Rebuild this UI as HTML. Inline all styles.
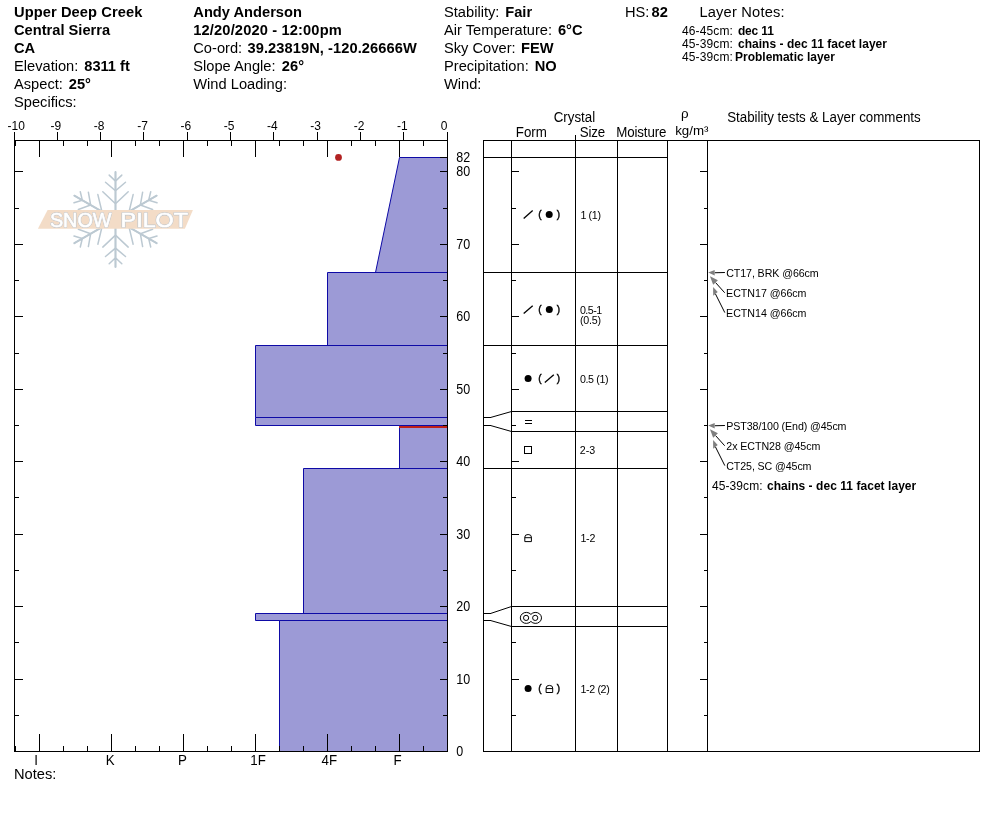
<!DOCTYPE html>
<html><head><meta charset="utf-8"><title>Snow Profile</title>
<style>
html,body{margin:0;padding:0;background:#fff;}
body{width:994px;height:840px;overflow:hidden;}
svg{display:block;font-family:"Liberation Sans",Arial,sans-serif;}
rect,polygon.c{shape-rendering:crispEdges;}
</style></head><body>
<svg width="994" height="840" viewBox="0 0 994 840">
<rect x="0" y="0" width="994" height="840" fill="#fff"/>
<g transform="translate(115.5,219.4)" stroke="#BCC9D2" stroke-width="1.5" fill="none" stroke-linecap="round">
<path transform="rotate(0)" d="M0,0 L0,-47.5 M-12.7,-27.7 L0,-15.7 L12.7,-27.7 M-10,-37.1 L0,-28.7 L10,-37.1 M-6.3,-44.3 L0,-38.3 L6.3,-44.3 "/><path transform="rotate(0)" d="M0,0 L0,-47.5" stroke-width="1.9"/>
<path transform="rotate(60)" d="M0,0 L0,-47.5 M-12.7,-27.7 L0,-15.7 L12.7,-27.7 M-10,-37.1 L0,-28.7 L10,-37.1 M-6.3,-44.3 L0,-38.3 L6.3,-44.3 "/><path transform="rotate(60)" d="M0,0 L0,-47.5" stroke-width="1.9"/>
<path transform="rotate(120)" d="M0,0 L0,-47.5 M-12.7,-27.7 L0,-15.7 L12.7,-27.7 M-10,-37.1 L0,-28.7 L10,-37.1 M-6.3,-44.3 L0,-38.3 L6.3,-44.3 "/><path transform="rotate(120)" d="M0,0 L0,-47.5" stroke-width="1.9"/>
<path transform="rotate(180)" d="M0,0 L0,-47.5 M-12.7,-27.7 L0,-15.7 L12.7,-27.7 M-10,-37.1 L0,-28.7 L10,-37.1 M-6.3,-44.3 L0,-38.3 L6.3,-44.3 "/><path transform="rotate(180)" d="M0,0 L0,-47.5" stroke-width="1.9"/>
<path transform="rotate(240)" d="M0,0 L0,-47.5 M-12.7,-27.7 L0,-15.7 L12.7,-27.7 M-10,-37.1 L0,-28.7 L10,-37.1 M-6.3,-44.3 L0,-38.3 L6.3,-44.3 "/><path transform="rotate(240)" d="M0,0 L0,-47.5" stroke-width="1.9"/>
<path transform="rotate(300)" d="M0,0 L0,-47.5 M-12.7,-27.7 L0,-15.7 L12.7,-27.7 M-10,-37.1 L0,-28.7 L10,-37.1 M-6.3,-44.3 L0,-38.3 L6.3,-44.3 "/><path transform="rotate(300)" d="M0,0 L0,-47.5" stroke-width="1.9"/>
</g>
<polygon points="47.6,210 192.9,210 184.9,228.7 37.9,228.7" fill="#F3DCC7"/>
<g font-size="20.3" fill="#fff" stroke="#C2C7CC" stroke-width="1.7" stroke-linejoin="round"><text x="49.9" y="226.5" textLength="61.6" lengthAdjust="spacingAndGlyphs">SNOW</text><text x="120.6" y="226.5" textLength="67.4" lengthAdjust="spacingAndGlyphs">PILOT</text></g>
<g font-size="20.3" fill="#fff" stroke="#fff" stroke-width="0.6" stroke-linejoin="round"><text x="49.9" y="226.5" textLength="61.6" lengthAdjust="spacingAndGlyphs">SNOW</text><text x="120.6" y="226.5" textLength="67.4" lengthAdjust="spacingAndGlyphs">PILOT</text></g>
<text x="14" y="16.7" font-size="14.67" font-weight="bold" fill="#000" transform="matrix(1 0 0 1.06 0 -1.002)" textLength="128.39" lengthAdjust="spacing">Upper Deep Creek</text>
<text x="14" y="34.6" font-size="14.67" font-weight="bold" fill="#000" transform="matrix(1 0 0 1.06 0 -2.076)">Central Sierra</text>
<text x="14" y="52.6" font-size="14.67" font-weight="bold" fill="#000" transform="matrix(1 0 0 1.06 0 -3.156)">CA</text>
<text x="14" y="70.6" font-size="14.67" xml:space="preserve" transform="matrix(1 0 0 1.055 0 -3.883)">Elevation: <tspan font-weight="bold" dx="1.8">8311 ft</tspan></text>
<text x="14" y="88.6" font-size="14.67" xml:space="preserve" transform="matrix(1 0 0 1.055 0 -4.873)">Aspect: <tspan font-weight="bold" dx="1.8">25°</tspan></text>
<text x="14" y="106.6" font-size="14.67" fill="#000" transform="matrix(1 0 0 1.055 0 -5.863)">Specifics:</text>
<text x="193.3" y="16.7" font-size="14.67" font-weight="bold" fill="#000" transform="matrix(1 0 0 1.06 0 -1.002)">Andy Anderson</text>
<text x="193.3" y="34.6" font-size="14.67" font-weight="bold" fill="#000" transform="matrix(1 0 0 1.06 0 -2.076)" textLength="148.48" lengthAdjust="spacing">12/20/2020 - 12:00pm</text>
<text x="193.3" y="52.6" font-size="14.67" xml:space="preserve" transform="matrix(1 0 0 1.055 0 -2.893)">Co-ord: <tspan font-weight="bold" dx="1.2" textLength="169.31">39.23819N, -120.26666W</tspan></text>
<text x="193.3" y="70.6" font-size="14.67" xml:space="preserve" transform="matrix(1 0 0 1.055 0 -3.883)">Slope Angle: <tspan font-weight="bold" dx="2.2">26°</tspan></text>
<text x="193.3" y="88.6" font-size="14.67" fill="#000" transform="matrix(1 0 0 1.055 0 -4.873)">Wind Loading:</text>
<text x="444" y="16.7" font-size="14.67" xml:space="preserve" transform="matrix(1 0 0 1.055 0 -0.918)">Stability: <tspan font-weight="bold" dx="1.8">Fair</tspan></text>
<text x="444" y="34.6" font-size="14.67" xml:space="preserve" transform="matrix(1 0 0 1.055 0 -1.903)">Air Temperature: <tspan font-weight="bold" dx="1.8">6°C</tspan></text>
<text x="444" y="52.6" font-size="14.67" xml:space="preserve" transform="matrix(1 0 0 1.055 0 -2.893)">Sky Cover: <tspan font-weight="bold" dx="1.3">FEW</tspan></text>
<text x="444" y="70.6" font-size="14.67" xml:space="preserve" transform="matrix(1 0 0 1.055 0 -3.883)">Precipitation: <tspan font-weight="bold" dx="2">NO</tspan></text>
<text x="444" y="88.6" font-size="14.67" fill="#000" transform="matrix(1 0 0 1.055 0 -4.873)">Wind:</text>
<text x="625" y="16.7" font-size="14.67" xml:space="preserve" transform="matrix(1 0 0 1.055 0 -0.918)">HS: <tspan font-weight="bold" dx="-2">82</tspan></text>
<text x="699.4" y="16.7" font-size="14.67" fill="#000" transform="matrix(1 0 0 1.055 0 -0.918)" textLength="85.24" lengthAdjust="spacing">Layer Notes:</text>
<text x="682.02" y="35" font-size="12" fill="#000" transform="matrix(1 0 0 1.09 0 -3.15)" textLength="50.87" lengthAdjust="spacing">46-45cm:</text>
<text x="737.91" y="35" font-size="12" font-weight="bold" fill="#000" transform="matrix(1 0 0 1.09 0 -3.15)" textLength="35.93" lengthAdjust="spacing">dec 11</text>
<text x="682.02" y="48" font-size="12" fill="#000" transform="matrix(1 0 0 1.09 0 -4.32)" textLength="50.87" lengthAdjust="spacing">45-39cm:</text>
<text x="737.93" y="48" font-size="12" font-weight="bold" fill="#000" transform="matrix(1 0 0 1.09 0 -4.32)" textLength="149.05" lengthAdjust="spacing">chains - dec 11 facet layer</text>
<text x="682.02" y="61" font-size="12" fill="#000" transform="matrix(1 0 0 1.09 0 -5.49)" textLength="50.87" lengthAdjust="spacing">45-39cm:</text>
<text x="735.0" y="61" font-size="12" font-weight="bold" fill="#000" transform="matrix(1 0 0 1.09 0 -5.49)" textLength="99.98" lengthAdjust="spacing">Problematic layer</text>
<text x="14" y="779.2" font-size="14.67" fill="#000" transform="matrix(1 0 0 1.055 0 -42.856)">Notes:</text>
<polygon points="399.5,157.5 447.5,157.5 447.5,272.5 375.5,272.5" fill="#9C9AD6" stroke="#0E0AA6" stroke-width="1"/>
<polygon points="327.5,272.5 447.5,272.5 447.5,345.5 327.5,345.5" fill="#9C9AD6" stroke="#0E0AA6" stroke-width="1"/>
<polygon points="255.5,345.5 447.5,345.5 447.5,417.5 255.5,417.5" fill="#9C9AD6" stroke="#0E0AA6" stroke-width="1"/>
<polygon points="255.5,417.5 447.5,417.5 447.5,425.5 255.5,425.5" fill="#9C9AD6" stroke="#0E0AA6" stroke-width="1"/>
<polygon points="399.5,425.5 447.5,425.5 447.5,468.5 399.5,468.5" fill="#9C9AD6" stroke="#0E0AA6" stroke-width="1"/>
<polygon points="303.5,468.5 447.5,468.5 447.5,613.5 303.5,613.5" fill="#9C9AD6" stroke="#0E0AA6" stroke-width="1"/>
<polygon points="255.5,613.5 447.5,613.5 447.5,620.5 255.5,620.5" fill="#9C9AD6" stroke="#0E0AA6" stroke-width="1"/>
<polygon points="279.5,620.5 447.5,620.5 447.5,751.5 279.5,751.5" fill="#9C9AD6" stroke="#0E0AA6" stroke-width="1"/>
<rect x="399" y="426" width="48" height="2" fill="#BF2019"/>
<rect x="14" y="132" width="1" height="620" fill="#000"/>
<rect x="447" y="132" width="1" height="620" fill="#000"/>
<rect x="14" y="140" width="434" height="1" fill="#000"/>
<rect x="14" y="751" width="434" height="1" fill="#000"/>
<rect x="14" y="132" width="1" height="8" fill="#000"/>
<rect x="57" y="132" width="1" height="8" fill="#000"/>
<rect x="100" y="132" width="1" height="8" fill="#000"/>
<rect x="143" y="132" width="1" height="8" fill="#000"/>
<rect x="187" y="132" width="1" height="8" fill="#000"/>
<rect x="230" y="132" width="1" height="8" fill="#000"/>
<rect x="273" y="132" width="1" height="8" fill="#000"/>
<rect x="317" y="132" width="1" height="8" fill="#000"/>
<rect x="360" y="132" width="1" height="8" fill="#000"/>
<rect x="403" y="132" width="1" height="8" fill="#000"/>
<rect x="447" y="132" width="1" height="8" fill="#000"/>
<text x="16.3" y="129.6" font-size="12" text-anchor="middle" fill="#000" transform="matrix(1 0 0 1.09 0 -11.664)">-10</text>
<text x="55.9" y="129.6" font-size="12" text-anchor="middle" fill="#000" transform="matrix(1 0 0 1.09 0 -11.664)">-9</text>
<text x="99.2" y="129.6" font-size="12" text-anchor="middle" fill="#000" transform="matrix(1 0 0 1.09 0 -11.664)">-8</text>
<text x="142.5" y="129.6" font-size="12" text-anchor="middle" fill="#000" transform="matrix(1 0 0 1.09 0 -11.664)">-7</text>
<text x="185.8" y="129.6" font-size="12" text-anchor="middle" fill="#000" transform="matrix(1 0 0 1.09 0 -11.664)">-6</text>
<text x="229.1" y="129.6" font-size="12" text-anchor="middle" fill="#000" transform="matrix(1 0 0 1.09 0 -11.664)">-5</text>
<text x="272.4" y="129.6" font-size="12" text-anchor="middle" fill="#000" transform="matrix(1 0 0 1.09 0 -11.664)">-4</text>
<text x="315.7" y="129.6" font-size="12" text-anchor="middle" fill="#000" transform="matrix(1 0 0 1.09 0 -11.664)">-3</text>
<text x="359.0" y="129.6" font-size="12" text-anchor="middle" fill="#000" transform="matrix(1 0 0 1.09 0 -11.664)">-2</text>
<text x="402.3" y="129.6" font-size="12" text-anchor="middle" fill="#000" transform="matrix(1 0 0 1.09 0 -11.664)">-1</text>
<text x="444.0" y="129.6" font-size="12" text-anchor="middle" fill="#000" transform="matrix(1 0 0 1.09 0 -11.664)">0</text>
<rect x="423" y="141" width="1" height="5" fill="#000"/>
<rect x="423" y="746" width="1" height="5" fill="#000"/>
<rect x="399" y="141" width="1" height="16" fill="#000"/>
<rect x="399" y="734" width="1" height="17" fill="#000"/>
<rect x="375" y="141" width="1" height="5" fill="#000"/>
<rect x="375" y="746" width="1" height="5" fill="#000"/>
<rect x="351" y="141" width="1" height="5" fill="#000"/>
<rect x="351" y="746" width="1" height="5" fill="#000"/>
<rect x="327" y="141" width="1" height="16" fill="#000"/>
<rect x="327" y="734" width="1" height="17" fill="#000"/>
<rect x="303" y="141" width="1" height="5" fill="#000"/>
<rect x="303" y="746" width="1" height="5" fill="#000"/>
<rect x="279" y="141" width="1" height="5" fill="#000"/>
<rect x="279" y="746" width="1" height="5" fill="#000"/>
<rect x="255" y="141" width="1" height="16" fill="#000"/>
<rect x="255" y="734" width="1" height="17" fill="#000"/>
<rect x="231" y="141" width="1" height="5" fill="#000"/>
<rect x="231" y="746" width="1" height="5" fill="#000"/>
<rect x="207" y="141" width="1" height="5" fill="#000"/>
<rect x="207" y="746" width="1" height="5" fill="#000"/>
<rect x="183" y="141" width="1" height="16" fill="#000"/>
<rect x="183" y="734" width="1" height="17" fill="#000"/>
<rect x="159" y="141" width="1" height="5" fill="#000"/>
<rect x="159" y="746" width="1" height="5" fill="#000"/>
<rect x="135" y="141" width="1" height="5" fill="#000"/>
<rect x="135" y="746" width="1" height="5" fill="#000"/>
<rect x="111" y="141" width="1" height="16" fill="#000"/>
<rect x="111" y="734" width="1" height="17" fill="#000"/>
<rect x="87" y="141" width="1" height="5" fill="#000"/>
<rect x="87" y="746" width="1" height="5" fill="#000"/>
<rect x="63" y="141" width="1" height="5" fill="#000"/>
<rect x="63" y="746" width="1" height="5" fill="#000"/>
<rect x="39" y="141" width="1" height="16" fill="#000"/>
<rect x="39" y="734" width="1" height="17" fill="#000"/>
<rect x="15" y="141" width="1" height="5" fill="#000"/>
<rect x="15" y="746" width="1" height="5" fill="#000"/>
<text x="34.27" y="765.4" font-size="13.33" fill="#000" transform="matrix(1 0 0 1.09 0 -68.886)">I</text>
<text x="105.81" y="765.4" font-size="13.33" fill="#000" transform="matrix(1 0 0 1.09 0 -68.886)">K</text>
<text x="177.91" y="765.4" font-size="13.33" fill="#000" transform="matrix(1 0 0 1.09 0 -68.886)">P</text>
<text x="250.38" y="765.4" font-size="13.33" fill="#000" transform="matrix(1 0 0 1.09 0 -68.886)">1F</text>
<text x="321.49" y="765.4" font-size="13.33" fill="#000" transform="matrix(1 0 0 1.09 0 -68.886)">4F</text>
<text x="393.61" y="765.4" font-size="13.33" fill="#000" transform="matrix(1 0 0 1.09 0 -68.886)">F</text>
<rect x="15" y="715" width="4" height="1" fill="#000"/>
<rect x="443" y="715" width="4" height="1" fill="#000"/>
<rect x="15" y="679" width="8" height="1" fill="#000"/>
<rect x="440" y="679" width="7" height="1" fill="#000"/>
<rect x="15" y="642" width="4" height="1" fill="#000"/>
<rect x="443" y="642" width="4" height="1" fill="#000"/>
<rect x="15" y="606" width="8" height="1" fill="#000"/>
<rect x="440" y="606" width="7" height="1" fill="#000"/>
<rect x="15" y="570" width="4" height="1" fill="#000"/>
<rect x="443" y="570" width="4" height="1" fill="#000"/>
<rect x="15" y="534" width="8" height="1" fill="#000"/>
<rect x="440" y="534" width="7" height="1" fill="#000"/>
<rect x="15" y="497" width="4" height="1" fill="#000"/>
<rect x="443" y="497" width="4" height="1" fill="#000"/>
<rect x="15" y="461" width="8" height="1" fill="#000"/>
<rect x="440" y="461" width="7" height="1" fill="#000"/>
<rect x="15" y="425" width="4" height="1" fill="#000"/>
<rect x="443" y="425" width="4" height="1" fill="#000"/>
<rect x="15" y="389" width="8" height="1" fill="#000"/>
<rect x="440" y="389" width="7" height="1" fill="#000"/>
<rect x="15" y="353" width="4" height="1" fill="#000"/>
<rect x="443" y="353" width="4" height="1" fill="#000"/>
<rect x="15" y="316" width="8" height="1" fill="#000"/>
<rect x="440" y="316" width="7" height="1" fill="#000"/>
<rect x="15" y="280" width="4" height="1" fill="#000"/>
<rect x="443" y="280" width="4" height="1" fill="#000"/>
<rect x="15" y="244" width="8" height="1" fill="#000"/>
<rect x="440" y="244" width="7" height="1" fill="#000"/>
<rect x="15" y="208" width="4" height="1" fill="#000"/>
<rect x="443" y="208" width="4" height="1" fill="#000"/>
<rect x="15" y="171" width="8" height="1" fill="#000"/>
<rect x="440" y="171" width="7" height="1" fill="#000"/>
<text x="456.2" y="756" font-size="12.5" fill="#000" transform="matrix(1 0 0 1.15 0 -113.4)">0</text>
<text x="456.2" y="684" font-size="12.5" fill="#000" transform="matrix(1 0 0 1.15 0 -102.6)">10</text>
<text x="456.2" y="611" font-size="12.5" fill="#000" transform="matrix(1 0 0 1.15 0 -91.65)">20</text>
<text x="456.2" y="539" font-size="12.5" fill="#000" transform="matrix(1 0 0 1.15 0 -80.85)">30</text>
<text x="456.2" y="466" font-size="12.5" fill="#000" transform="matrix(1 0 0 1.15 0 -69.9)">40</text>
<text x="456.2" y="394" font-size="12.5" fill="#000" transform="matrix(1 0 0 1.15 0 -59.1)">50</text>
<text x="456.2" y="321" font-size="12.5" fill="#000" transform="matrix(1 0 0 1.15 0 -48.15)">60</text>
<text x="456.2" y="249" font-size="12.5" fill="#000" transform="matrix(1 0 0 1.15 0 -37.35)">70</text>
<text x="456.2" y="176" font-size="12.5" fill="#000" transform="matrix(1 0 0 1.15 0 -26.4)">80</text>
<text x="456.2" y="162" font-size="12.5" fill="#000" transform="matrix(1 0 0 1.15 0 -24.3)">82</text>
<rect x="440" y="157" width="7" height="1" fill="#000"/>
<circle cx="338.5" cy="157.4" r="3.4" fill="#B22222"/>
<rect x="483" y="140" width="1" height="612" fill="#000"/>
<rect x="511" y="140" width="1" height="612" fill="#000"/>
<rect x="575" y="140" width="1" height="612" fill="#000"/>
<rect x="617" y="140" width="1" height="612" fill="#000"/>
<rect x="667" y="140" width="1" height="612" fill="#000"/>
<rect x="707" y="140" width="1" height="612" fill="#000"/>
<rect x="979" y="140" width="1" height="612" fill="#000"/>
<rect x="575" y="135" width="1" height="6" fill="#000"/>
<rect x="483" y="140" width="497" height="1" fill="#000"/>
<rect x="483" y="751" width="497" height="1" fill="#000"/>
<rect x="483" y="157" width="185" height="1" fill="#000"/>
<rect x="483" y="272" width="185" height="1" fill="#000"/>
<rect x="483" y="345" width="185" height="1" fill="#000"/>
<rect x="511" y="411" width="157" height="1" fill="#000"/>
<rect x="511" y="431" width="157" height="1" fill="#000"/>
<rect x="483" y="468" width="185" height="1" fill="#000"/>
<rect x="511" y="606" width="157" height="1" fill="#000"/>
<rect x="511" y="626" width="157" height="1" fill="#000"/>
<rect x="483" y="417" width="8" height="1" fill="#000"/>
<line x1="490.5" y1="417.5" x2="511.5" y2="411.5" stroke="#000" stroke-width="1"/>
<rect x="483" y="425" width="8" height="1" fill="#000"/>
<line x1="490.5" y1="425.5" x2="511.5" y2="431.5" stroke="#000" stroke-width="1"/>
<rect x="483" y="613" width="8" height="1" fill="#000"/>
<line x1="490.5" y1="613.5" x2="511.5" y2="606.5" stroke="#000" stroke-width="1"/>
<rect x="483" y="620" width="8" height="1" fill="#000"/>
<line x1="490.5" y1="620.5" x2="511.5" y2="626.5" stroke="#000" stroke-width="1"/>
<rect x="512" y="715" width="4" height="1" fill="#000"/>
<rect x="704" y="715" width="3" height="1" fill="#000"/>
<rect x="512" y="679" width="7" height="1" fill="#000"/>
<rect x="700" y="679" width="7" height="1" fill="#000"/>
<rect x="512" y="642" width="4" height="1" fill="#000"/>
<rect x="704" y="642" width="3" height="1" fill="#000"/>
<rect x="512" y="606" width="7" height="1" fill="#000"/>
<rect x="700" y="606" width="7" height="1" fill="#000"/>
<rect x="512" y="570" width="4" height="1" fill="#000"/>
<rect x="704" y="570" width="3" height="1" fill="#000"/>
<rect x="512" y="534" width="7" height="1" fill="#000"/>
<rect x="700" y="534" width="7" height="1" fill="#000"/>
<rect x="512" y="497" width="4" height="1" fill="#000"/>
<rect x="704" y="497" width="3" height="1" fill="#000"/>
<rect x="512" y="461" width="7" height="1" fill="#000"/>
<rect x="700" y="461" width="7" height="1" fill="#000"/>
<rect x="512" y="425" width="4" height="1" fill="#000"/>
<rect x="704" y="425" width="3" height="1" fill="#000"/>
<rect x="512" y="389" width="7" height="1" fill="#000"/>
<rect x="700" y="389" width="7" height="1" fill="#000"/>
<rect x="512" y="353" width="4" height="1" fill="#000"/>
<rect x="704" y="353" width="3" height="1" fill="#000"/>
<rect x="512" y="316" width="7" height="1" fill="#000"/>
<rect x="700" y="316" width="7" height="1" fill="#000"/>
<rect x="512" y="280" width="4" height="1" fill="#000"/>
<rect x="704" y="280" width="3" height="1" fill="#000"/>
<rect x="512" y="244" width="7" height="1" fill="#000"/>
<rect x="700" y="244" width="7" height="1" fill="#000"/>
<rect x="512" y="208" width="4" height="1" fill="#000"/>
<rect x="704" y="208" width="3" height="1" fill="#000"/>
<rect x="512" y="171" width="7" height="1" fill="#000"/>
<rect x="700" y="171" width="7" height="1" fill="#000"/>
<text x="553.72" y="121.7" font-size="13.33" fill="#000" transform="matrix(1 0 0 1.09 0 -10.953)" textLength="41.47" lengthAdjust="spacing">Crystal</text>
<text x="515.81" y="136.6" font-size="13.33" fill="#000" transform="matrix(1 0 0 1.09 0 -12.294)" textLength="31.07" lengthAdjust="spacing">Form</text>
<text x="579.79" y="136.6" font-size="13.33" fill="#000" transform="matrix(1 0 0 1.09 0 -12.294)" textLength="25.4" lengthAdjust="spacing">Size</text>
<text x="616.31" y="136.6" font-size="13.33" fill="#000" transform="matrix(1 0 0 1.09 0 -12.294)" textLength="50.09" lengthAdjust="spacing">Moisture</text>
<text x="681.04" y="117.85" font-size="13.33" fill="#000">ρ</text>
<text x="675.2" y="134.9" font-size="13.33" fill="#000" transform="matrix(1 0 0 1.01 0 -1.349)" textLength="33.26" lengthAdjust="spacing">kg/m³</text>
<text x="727.19" y="121.7" font-size="13.33" fill="#000" transform="matrix(1 0 0 1.09 0 -10.953)" textLength="193.49" lengthAdjust="spacing">Stability tests &amp; Layer comments</text>
<text x="580.39" y="219" font-size="10.67" fill="#000" transform="matrix(1 0 0 1.09 0 -19.71)" textLength="20.57" lengthAdjust="spacing">1 (1)</text>
<text x="579.98" y="313.6" font-size="10.67" fill="#000" transform="matrix(1 0 0 1.09 0 -28.224)" textLength="22.14" lengthAdjust="spacing">0.5-1</text>
<text x="580.04" y="324.3" font-size="10.67" fill="#000" transform="matrix(1 0 0 1.09 0 -29.187)" textLength="20.92" lengthAdjust="spacing">(0.5)</text>
<text x="579.98" y="382.7" font-size="10.67" fill="#000" transform="matrix(1 0 0 1.09 0 -34.443)" textLength="28.58" lengthAdjust="spacing">0.5 (1)</text>
<text x="579.66" y="453.8" font-size="10.67" fill="#000" transform="matrix(1 0 0 1.09 0 -40.842)" textLength="15.61" lengthAdjust="spacing">2-3</text>
<text x="580.39" y="541.7" font-size="10.67" fill="#000" transform="matrix(1 0 0 1.09 0 -48.753)" textLength="14.95" lengthAdjust="spacing">1-2</text>
<text x="580.39" y="692.6" font-size="10.67" fill="#000" transform="matrix(1 0 0 1.09 0 -62.334)" textLength="29.37" lengthAdjust="spacing">1-2 (2)</text>
<line x1="523.7" y1="218.4" x2="532.7" y2="210.6" stroke="#000" stroke-width="1.3"/>
<text x="538.28" y="217.7" font-size="10.0" stroke="#000" stroke-width="0.4">(</text>
<text x="556.84" y="217.7" font-size="10.0" stroke="#000" stroke-width="0.4">)</text>
<circle cx="549.2" cy="214.6" r="3.5" fill="#000"/>
<line x1="523.7" y1="313.59999999999997" x2="532.7" y2="305.8" stroke="#000" stroke-width="1.3"/>
<text x="538.28" y="312.7" font-size="10.0" stroke="#000" stroke-width="0.4">(</text>
<text x="556.84" y="312.7" font-size="10.0" stroke="#000" stroke-width="0.4">)</text>
<circle cx="549.3" cy="309.6" r="3.5" fill="#000"/>
<circle cx="528.1" cy="378.6" r="3.5" fill="#000"/>
<text x="538.28" y="381.7" font-size="10.0" stroke="#000" stroke-width="0.4">(</text>
<text x="556.84" y="381.7" font-size="10.0" stroke="#000" stroke-width="0.4">)</text>
<line x1="544.8" y1="382.5" x2="553.8" y2="374.70000000000005" stroke="#000" stroke-width="1.3"/>
<rect x="525" y="420" width="7" height="1" fill="#000"/>
<rect x="525" y="423" width="7" height="1" fill="#000"/>
<rect x="524.5" y="446.5" width="7" height="7" fill="none" stroke="#000"/>
<path d="M524.8,541.6 L524.8,537.1 Q524.8,534.5 528.0999999999999,534.5 Q531.4,534.5 531.4,537.1 L531.4,541.6 Z M524.8,537.7 L531.4,537.7" fill="none" stroke="#000" stroke-width="1"/>
<g fill="none" stroke="#000" stroke-width="1"><path d="M530.9,614.37 A6,5.5 0 1 0 530.9,621.43 A6,5.5 0 1 0 530.9,614.37 Z"/><circle cx="526.1" cy="617.9" r="2.6"/><circle cx="535.2" cy="617.9" r="2.6"/></g>
<circle cx="528.1" cy="688.6" r="3.5" fill="#000"/>
<text x="538.28" y="691.7" font-size="10.0" stroke="#000" stroke-width="0.4">(</text>
<text x="556.84" y="691.7" font-size="10.0" stroke="#000" stroke-width="0.4">)</text>
<path d="M546.1,692.5 L546.1,688 Q546.1,685.4 549.4,685.4 Q552.7,685.4 552.7,688 L552.7,692.5 Z M546.1,688.6 L552.7,688.6" fill="none" stroke="#000" stroke-width="1"/>
<line x1="724.9" y1="272.5" x2="714.7" y2="272.75" stroke="#000" stroke-width="1"/>
<polygon points="708.20,272.40 714.70,270.10 714.70,275.40" fill="#7F7F7F"/>
<line x1="724.7" y1="292.75" x2="715.55" y2="282.55" stroke="#000" stroke-width="1"/>
<polygon points="710.00,276.30 717.90,280.30 713.20,284.80" fill="#7F7F7F"/>
<line x1="724.8" y1="312.6" x2="715.45" y2="293.9" stroke="#000" stroke-width="1"/>
<polygon points="713.10,287.00 713.20,295.80 717.70,292.00" fill="#7F7F7F"/>
<line x1="724.9" y1="425.5" x2="714.7" y2="425.75" stroke="#000" stroke-width="1"/>
<polygon points="708.20,425.40 714.70,423.10 714.70,428.40" fill="#7F7F7F"/>
<line x1="724.7" y1="445.75" x2="715.55" y2="435.55" stroke="#000" stroke-width="1"/>
<polygon points="710.00,429.30 717.90,433.30 713.20,437.80" fill="#7F7F7F"/>
<line x1="724.8" y1="465.6" x2="715.45" y2="446.9" stroke="#000" stroke-width="1"/>
<polygon points="713.10,440.00 713.20,448.80 717.70,445.00" fill="#7F7F7F"/>
<text x="726.16" y="276.7" font-size="10.67" fill="#000" transform="matrix(1 0 0 1.09 0 -24.903)" textLength="92.53" lengthAdjust="spacing">CT17, BRK @66cm</text>
<text x="726.12" y="296.85" font-size="10.67" fill="#000" transform="matrix(1 0 0 1.09 0 -26.717)" textLength="80.33" lengthAdjust="spacing">ECTN17 @66cm</text>
<text x="726.12" y="316.65" font-size="10.67" fill="#000" transform="matrix(1 0 0 1.09 0 -28.499)" textLength="80.33" lengthAdjust="spacing">ECTN14 @66cm</text>
<text x="726.32" y="429.7" font-size="10.67" fill="#000" transform="matrix(1 0 0 1.09 0 -38.673)" textLength="120.18" lengthAdjust="spacing">PST38/100 (End) @45cm</text>
<text x="726.26" y="449.85" font-size="10.67" fill="#000" transform="matrix(1 0 0 1.09 0 -40.487)" textLength="94.14" lengthAdjust="spacing">2x ECTN28 @45cm</text>
<text x="726.26" y="469.65" font-size="10.67" fill="#000" transform="matrix(1 0 0 1.09 0 -42.269)" textLength="85.25" lengthAdjust="spacing">CT25, SC @45cm</text>
<text x="711.92" y="490" font-size="12" fill="#000" transform="matrix(1 0 0 1.09 0 -44.1)" textLength="50.67" lengthAdjust="spacing">45-39cm:</text>
<text x="766.93" y="490" font-size="12" font-weight="bold" fill="#000" transform="matrix(1 0 0 1.09 0 -44.1)" textLength="149.35" lengthAdjust="spacing">chains - dec 11 facet layer</text>
</svg>
</body></html>
